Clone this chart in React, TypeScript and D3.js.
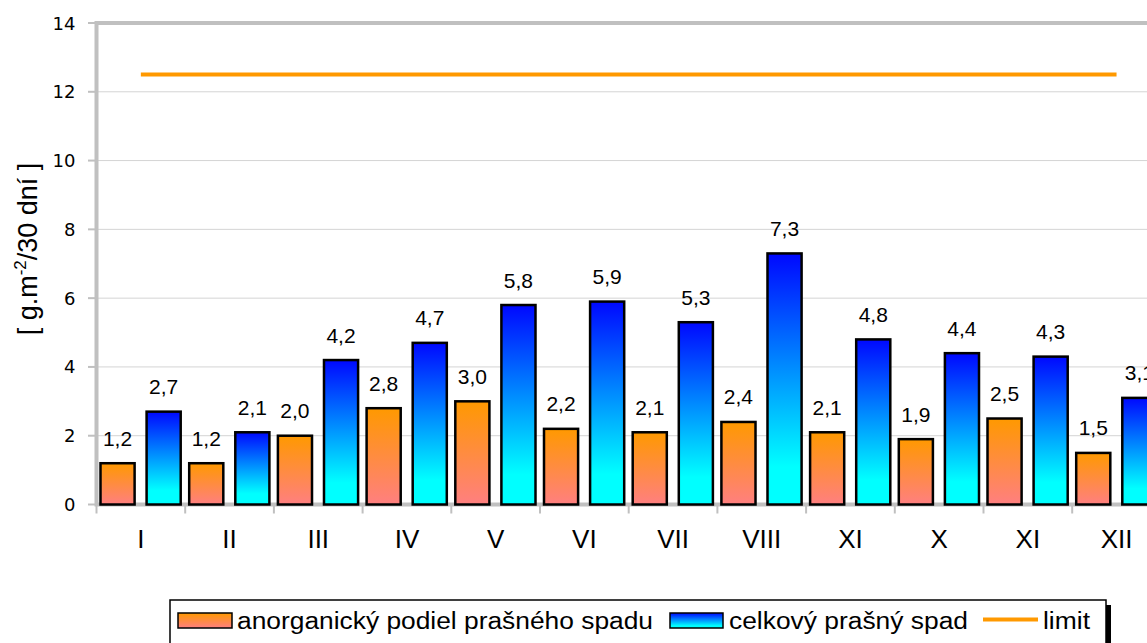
import React, {useEffect, useRef} from 'react';
import * as d3 from 'd3';

const months = ['I', 'II', 'III', 'IV', 'V', 'VI', 'VII', 'VIII', 'XI', 'X', 'XI', 'XII'];
const anorganic = [1.2, 1.2, 2.0, 2.8, 3.0, 2.2, 2.1, 2.4, 2.1, 1.9, 2.5, 1.5];
const total = [2.7, 2.1, 4.2, 4.7, 5.8, 5.9, 5.3, 7.3, 4.8, 4.4, 4.3, 3.1];
const limitValue = 12.5;
const yTicks = [0, 2, 4, 6, 8, 10, 12, 14];
const seriesNames = ['anorganický podiel prašného spadu', 'celkový prašný spad', 'limit'];

const W = 1147;
const H = 643;

export default function App() {
  const ref = useRef<SVGSVGElement>(null);

  useEffect(() => {
    const svg = d3.select(ref.current);
    svg.selectAll('*').remove();
    const font = '"Liberation Sans", Arial, sans-serif';
    const tickFont = '"DejaVu Sans", Verdana, sans-serif';

    const left = 96.5, top = 23, bottom = 504.5;
    const band = 88.7;

    const x = d3.scaleBand<number>()
      .domain(d3.range(months.length))
      .range([left, left + band * months.length])
      .padding(0);
    const inner = d3.scaleBand<number>()
      .domain([0, 1])
      .range([4, band - 4.5])
      .paddingInner(0.26)
      .paddingOuter(0);
    const y = d3.scaleLinear().domain([0, 14]).range([bottom, top]);

    const defs = svg.append('defs');
    const gO = defs.append('linearGradient').attr('id', 'gradO')
      .attr('x1', 0).attr('y1', 0).attr('x2', 0).attr('y2', 1);
    gO.append('stop').attr('offset', '0%').attr('stop-color', '#ff9900');
    gO.append('stop').attr('offset', '100%').attr('stop-color', '#ff7f80');
    const gB = defs.append('linearGradient').attr('id', 'gradB')
      .attr('x1', 0).attr('y1', 0).attr('x2', 0).attr('y2', 1);
    gB.append('stop').attr('offset', '0%').attr('stop-color', '#0008ff');
    gB.append('stop').attr('offset', '85%').attr('stop-color', '#00ffff');
    gB.append('stop').attr('offset', '100%').attr('stop-color', '#00ffff');

    // gridlines
    svg.append('g').selectAll('line')
      .data(yTicks.slice(1, -1))
      .enter().append('line')
      .attr('x1', left).attr('x2', W)
      .attr('y1', d => y(d)).attr('y2', d => y(d))
      .attr('stroke', '#d4d4d4').attr('stroke-width', 1);

    // plot border
    const xEnd = x.range()[1];
    svg.append('rect')
      .attr('x', left).attr('y', top)
      .attr('width', xEnd - left).attr('height', bottom - top)
      .attr('fill', 'none').attr('stroke', '#c0c0c0').attr('stroke-width', 4);

    // y ticks
    const yg = svg.append('g');
    yg.selectAll('line').data(yTicks).enter().append('line')
      .attr('x1', 88).attr('x2', left)
      .attr('y1', d => y(d)).attr('y2', d => y(d))
      .attr('stroke', '#c0c0c0').attr('stroke-width', 2);
    yg.selectAll('text').data(yTicks).enter().append('text')
      .attr('x', 75.5).attr('y', d => y(d) + 6.5)
      .attr('text-anchor', 'end')
      .style('font-family', tickFont).style('font-size', '18px')
      .text(d => d);

    // x ticks
    svg.append('g').selectAll('line')
      .data(d3.range(months.length + 1))
      .enter().append('line')
      .attr('x1', d => left + d * band).attr('x2', d => left + d * band)
      .attr('y1', bottom).attr('y2', bottom + 9)
      .attr('stroke', '#c0c0c0').attr('stroke-width', 2);
    svg.append('g').selectAll('text')
      .data(months).enter().append('text')
      .attr('x', (d, i) => x(i)! + band / 2)
      .attr('y', 548)
      .attr('text-anchor', 'middle')
      .style('font-family', font).style('font-size', '26px')
      .text(d => d);

    // bars
    const series = [anorganic, total];
    const fills = ['url(#gradO)', 'url(#gradB)'];
    series.forEach((vals, s) => {
      const g = svg.append('g');
      g.selectAll('rect').data(vals).enter().append('rect')
        .attr('x', (d, i) => x(i)! + inner(s)!)
        .attr('y', d => y(d))
        .attr('width', inner.bandwidth())
        .attr('height', d => bottom - y(d))
        .attr('fill', fills[s])
        .attr('stroke', '#000').attr('stroke-width', 2.5);
      g.selectAll('text').data(vals).enter().append('text')
        .attr('x', (d, i) => x(i)! + inner(s)! + inner.bandwidth() / 2)
        .attr('y', d => y(d) - 17.5)
        .attr('text-anchor', 'middle')
        .style('font-family', font).style('font-size', '21px')
        .text(d => d.toFixed(1).replace('.', ','));
    });

    // limit line
    svg.append('line')
      .attr('x1', x(0)! + band / 2).attr('x2', x(months.length - 1)! + band / 2)
      .attr('y1', y(limitValue)).attr('y2', y(limitValue))
      .attr('stroke', '#ff9900').attr('stroke-width', 4);

    // y label
    svg.append('text')
      .attr('transform', `translate(37,${249}) rotate(-90)`)
      .attr('text-anchor', 'middle')
      .style('font-family', font).style('font-size', '27px')
      .call(t => {
        t.append('tspan').text('[ g.m');
        t.append('tspan').attr('dy', -11).style('font-size', '17px').text('-2');
        t.append('tspan').attr('dy', 11).text('/30 dní ]');
      });

    // legend
    const lg = svg.append('g');
    lg.append('rect').attr('x', 175).attr('y', 605).attr('width', 936).attr('height', 60).attr('fill', '#000');
    lg.append('rect').attr('x', 170).attr('y', 600).attr('width', 936).attr('height', 60)
      .attr('fill', '#fff').attr('stroke', '#000').attr('stroke-width', 1.5);
    lg.append('rect').attr('x', 178).attr('y', 613).attr('width', 54).attr('height', 15)
      .attr('fill', 'url(#gradO)').attr('stroke', '#000').attr('stroke-width', 1.5);
    lg.append('rect').attr('x', 670).attr('y', 613).attr('width', 53).attr('height', 15)
      .attr('fill', 'url(#gradB)').attr('stroke', '#000').attr('stroke-width', 1.5);
    lg.append('line').attr('x1', 983).attr('x2', 1038).attr('y1', 619.5).attr('y2', 619.5)
      .attr('stroke', '#ff9900').attr('stroke-width', 4);
    const items = [
      {x: 237, w: 416},
      {x: 729, w: 239},
      {x: 1043, w: 47},
    ];
    lg.selectAll('text.leg').data(seriesNames).enter().append('text')
      .attr('class', 'leg')
      .attr('x', (d, i) => items[i].x).attr('y', 629)
      .attr('textLength', (d, i) => items[i].w)
      .attr('lengthAdjust', 'spacingAndGlyphs')
      .style('font-family', font).style('font-size', '23px')
      .text(d => d);
  }, []);

  return (
    <div>
      <style>{'body{margin:0;background:#fff}'}</style>
      <svg ref={ref} width={W} height={H} style={{display: 'block'}}></svg>
    </div>
  );
}
